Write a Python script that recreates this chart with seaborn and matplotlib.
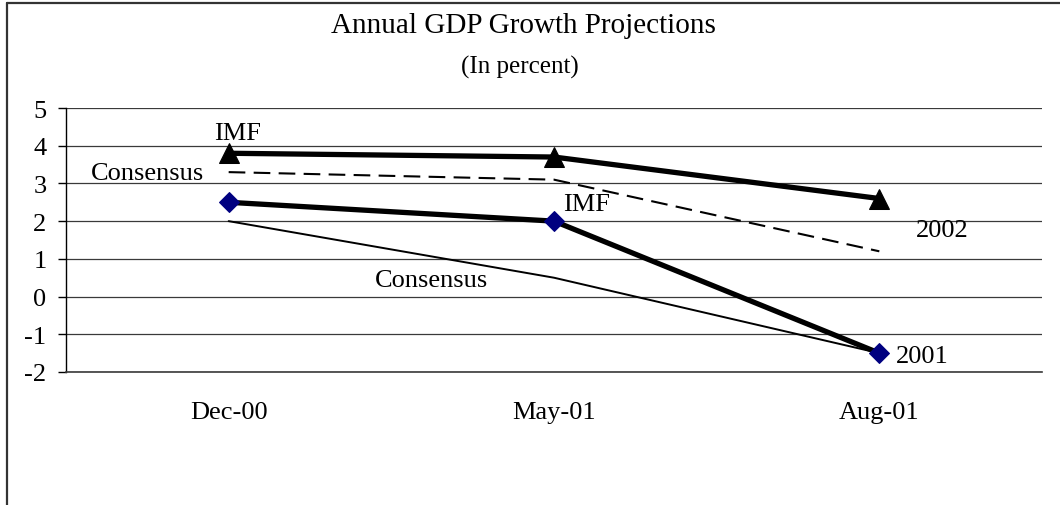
import numpy as np
import pandas as pd
import matplotlib
matplotlib.use("Agg")
import matplotlib.pyplot as plt
import seaborn as sns
from matplotlib.lines import Line2D

# ---- data ----
dates = ["Dec-00", "May-01", "Aug-01"]
imf_2002 = [3.8, 3.7, 2.6]
consensus_2002 = [3.3, 3.1, 1.2]
imf_2001 = [2.5, 2.0, -1.5]
consensus_2001 = [2.0, 0.5, -1.5]
y_ticks = [5, 4, 3, 2, 1, 0, -1, -2]

sns.set_theme(style="white")
plt.rcParams['font.family'] = ['Liberation Serif', 'DejaVu Serif']
plt.rcParams['axes.unicode_minus'] = False

W, H = 1060, 506
fig = plt.figure(figsize=(W / 100, H / 100), dpi=100)
ax = fig.add_axes([66 / W, 1 - 373 / H, 976 / W, 264 / H])

pos = np.arange(len(dates))

def frame(vals):
    return pd.DataFrame({"x": pos, "y": vals})

# gridlines under everything
ax.set_yticks(y_ticks)
ax.set_ylim(-2, 5)
ax.set_xlim(-0.5, 2.5)
ax.grid(axis='y', color='#3a3a3a', linewidth=0.9)
ax.grid(axis='x', visible=False)
ax.set_axisbelow(True)

# thin consensus lines
sns.lineplot(data=frame(consensus_2002), x="x", y="y", ax=ax, color="black",
             linewidth=1.5, linestyle=(0, (8, 4)), sort=False)
sns.lineplot(data=frame(consensus_2001), x="x", y="y", ax=ax, color="black",
             linewidth=1.4, sort=False)
# thick IMF lines with markers
sns.lineplot(data=frame(imf_2002), x="x", y="y", ax=ax, color="black",
             linewidth=3.8, marker="^", markersize=14.5, markerfacecolor="black",
             markeredgecolor="black", sort=False)
sns.lineplot(data=frame(imf_2001), x="x", y="y", ax=ax, color="black",
             linewidth=3.8, marker="D", markersize=10.5, markerfacecolor="#000080",
             markeredgecolor="#000080", sort=False)

ax.set_xticks(pos)
ax.set_xticklabels(dates)
ax.set_xlabel("")
ax.set_ylabel("")
ax.tick_params(axis='x', length=0, pad=21, labelsize=19, colors='black')
ax.tick_params(axis='y', left=True, direction='out', length=6, width=1,
               color='black', pad=8, labelsize=19, labelcolor='black')

for s in ["top", "right"]:
    ax.spines[s].set_visible(False)
ax.spines["left"].set_color("black")
ax.spines["left"].set_linewidth(1.0)
ax.spines["bottom"].set_color("#3a3a3a")
ax.spines["bottom"].set_linewidth(1.2)

# series labels
lab = dict(fontsize=19, color='black', ha='center', va='baseline')
ax.text(0.026, 4.18, "IMF", **lab)
ax.text(-0.251, 3.12, "Consensus", **lab)
ax.text(1.101, 2.30, "IMF", **lab)
ax.text(0.622, 0.28, "Consensus", **lab)
ax.text(2.193, 1.61, "2002", **lab)
ax.text(2.131, -1.74, "2001", **lab)

# titles
fig.text(523 / W, 1 - 33 / H, "Annual GDP Growth Projections", ha='center',
         va='baseline', fontsize=21, color='black')
fig.text(520 / W, 1 - 74 / H, "(In percent)", ha='center', va='baseline',
         fontsize=18, color='black')

# outer frame (top and left edges)
fig.add_artist(Line2D([7 / W, 1], [1 - 4 / H, 1 - 4 / H], transform=fig.transFigure,
                      color='#333333', linewidth=1.6))
fig.add_artist(Line2D([7 / W, 7 / W], [0, 1 - 4 / H], transform=fig.transFigure,
                      color='#333333', linewidth=1.6))

fig.savefig("out.png", dpi=100, facecolor="white")
